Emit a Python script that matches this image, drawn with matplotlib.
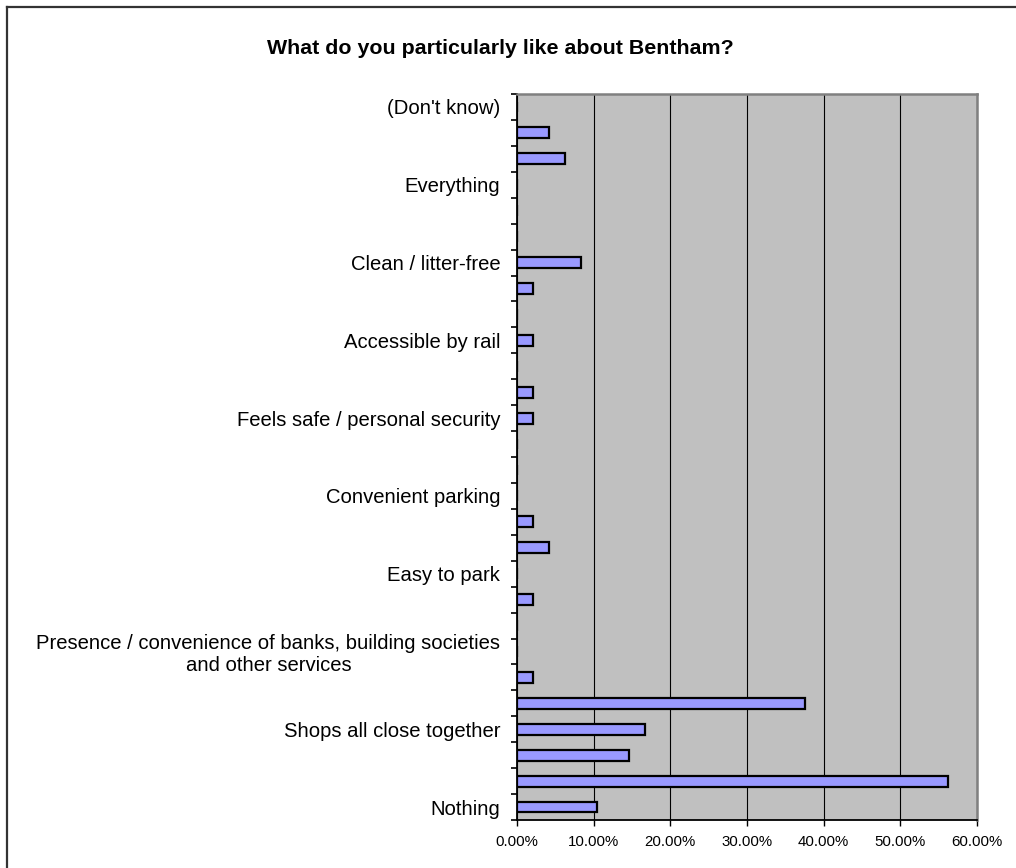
import matplotlib
matplotlib.use("Agg")
import matplotlib.pyplot as plt
from matplotlib.lines import Line2D
from matplotlib.ticker import FixedLocator, PercentFormatter

plt.rcParams['font.family'] = ['Liberation Sans', 'DejaVu Sans']

title = "What do you particularly like about Bentham?"

# categories from bottom (index 0) to top; only every third label is shown in the reference
categories = [
    "Nothing", "", "",
    "Shops all close together", "", "",
    "Presence / convenience of banks, building societies\nand other services", "", "",
    "Easy to park", "", "",
    "Convenient parking", "", "",
    "Feels safe / personal security", "", "",
    "Accessible by rail", "", "",
    "Clean / litter-free", "", "",
    "Everything", "", "",
    "(Don't know)",
]

values = [
    10.42, 56.25, 14.58,
    16.67, 37.50, 2.08,
    0.0, 0.0, 2.08,
    0.0, 4.17, 2.08,
    0.0, 0.0, 0.0,
    2.08, 2.08, 0.0,
    2.08, 0.0, 2.08,
    8.33, 0.0, 0.0,
    0.0, 6.25, 4.17,
    0.0,
]

x_ticks = [0, 10, 20, 30, 40, 50, 60]

W, H = 1016, 868
fig = plt.figure(figsize=(W / 100, H / 100), dpi=100)
ax = fig.add_axes([517 / W, 1 - 820 / H, (977 - 517) / W, (820 - 94) / H])

n = len(categories)
pos = list(range(n))
ax.barh(pos, values, height=0.42, color='#9999FF', edgecolor='black', linewidth=1.6, zorder=3)

ax.set_facecolor('#C0C0C0')
ax.set_xlim(0, 60)
ax.set_ylim(-0.5, n - 0.5)

ax.xaxis.set_major_locator(FixedLocator(x_ticks))
ax.xaxis.set_major_formatter(PercentFormatter(decimals=2))
ax.grid(axis='x', color='black', linewidth=0.8, zorder=1)
ax.tick_params(axis='x', direction='out', length=4, width=1, pad=7, labelsize=10.8, colors='black')

ax.set_yticks(pos)
ax.set_yticklabels(categories, multialignment='center', linespacing=1.2)
ax.tick_params(axis='y', which='major', length=0, pad=12, labelsize=14.6)
ax.set_yticks([p - 0.5 for p in range(n + 1)], minor=True)
ax.tick_params(axis='y', which='minor', direction='out', length=4, width=1.2, color='black')

for s in ('left', 'bottom'):
    ax.spines[s].set_color('black')
    ax.spines[s].set_linewidth(1.3)
for s in ('top', 'right'):
    ax.spines[s].set_color('#808080')
    ax.spines[s].set_linewidth(1.8)

fig.text(0.5 * (263 + 738) / W, 1 - 48 / H, title, ha='center', va='center',
         fontsize=15.4, fontweight='bold')

# outer chart frame (top and left edges visible)
fig.add_artist(Line2D([7 / W, 1.0], [1 - 7 / H, 1 - 7 / H], transform=fig.transFigure,
                      color='#333333', linewidth=1.6))
fig.add_artist(Line2D([7 / W, 7 / W], [0.0, 1 - 7 / H], transform=fig.transFigure,
                      color='#333333', linewidth=1.6))

fig.savefig('out.png', dpi=100)
